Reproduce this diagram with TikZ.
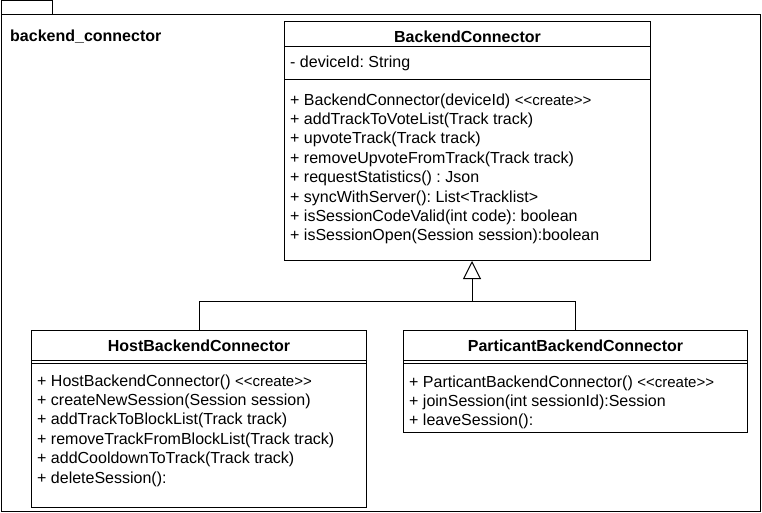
\documentclass[tikz,border=0pt]{standalone}
\usepackage{fontspec}
\setmainfont{Liberation Sans}
\usetikzlibrary{arrows.meta,positioning}
\frenchspacing

\newcommand{\stereo}{{\fontsize{15}{17}\selectfont <{}<create>{}>}}

\tikzset{
  frameline/.style={line width=1pt},
  classbox/.style={draw, line width=1pt, anchor=north west, inner sep=0pt},
  classtitle/.style={font=\bfseries\fontsize{16}{18}\selectfont},
  member/.style={anchor=west, inner sep=0pt, font=\fontsize{16}{18}\selectfont},
  inherit/.style={line width=1pt, -{Triangle[open, length=18pt, width=18pt]}}
}

\begin{document}
\begin{tikzpicture}[x=1pt, y=-1pt]
    \useasboundingbox (0,0) rectangle (762,513);

    % Package frame
    \draw[frameline] (1,15) rectangle (760,511);
    \draw[frameline] (1,15) |- (52,1) -- (52,15);
    \node[anchor=west, inner sep=0pt, font=\bfseries\fontsize{16}{18}\selectfont] (pkg) at (10,37) {backend\_connector};

    % Base class
    \node[classbox, minimum width=366pt, minimum height=239pt] (bc) at (284,21) {};
    \node[classtitle] (bctitle) at ([yshift=-16pt]bc.north) {BackendConnector};
    \draw ([yshift=-25pt]bc.north west) -- ([yshift=-25pt]bc.north east);
    \draw ([yshift=-58pt]bc.north west) -- ([yshift=-58pt]bc.north east);
    \node[member] (bcattr) at (290,63) {- deviceId: String};
    \foreach \m [count=\i from 0] in {%
        {+ BackendConnector(deviceId) \stereo},
        {+ addTrackToVoteList(Track track)},
        {+ upvoteTrack(Track track)},
        {+ removeUpvoteFromTrack(Track track)},
        {+ requestStatistics() : Json},
        {+ syncWithServer(): List<Tracklist>},
        {+ isSessionCodeValid(int code): boolean},
        {+ isSessionOpen(Session session):boolean}}
      \node[member] at (290,101+19.4*\i) {\m};

    % Host class
    \node[classbox, minimum width=335pt, minimum height=177pt] (host) at (31,330) {};
    \node[classtitle] (hosttitle) at ([yshift=-16pt]host.north) {HostBackendConnector};
    \draw ([yshift=-30pt]host.north west) -- ([yshift=-30pt]host.north east);
    \draw ([yshift=-33pt]host.north west) -- ([yshift=-33pt]host.north east);
    \foreach \m [count=\i from 0] in {%
        {+ HostBackendConnector() \stereo},
        {+ createNewSession(Session session)},
        {+ addTrackToBlockList(Track track)},
        {+ removeTrackFromBlockList(Track track)},
        {+ addCooldownToTrack(Track track)},
        {+ deleteSession():}}
      \node[member] at (37,382+19.4*\i) {\m};

    % Participant class
    \node[classbox, minimum width=344pt, minimum height=102pt] (part) at (403,330) {};
    \node[classtitle] (parttitle) at ([yshift=-16pt]part.north) {ParticantBackendConnector};
    \draw ([yshift=-30pt]part.north west) -- ([yshift=-30pt]part.north east);
    \draw ([yshift=-33pt]part.north west) -- ([yshift=-33pt]part.north east);
    \foreach \m [count=\i from 0] in {%
        {+ ParticantBackendConnector() \stereo},
        {+ joinSession(int sessionId):Session},
        {+ leaveSession():}}
      \node[member] at (409,383+19.4*\i) {\m};

    % Generalization
    \coordinate (join) at (472,301);
    \draw[line width=1pt] (host.north) |- (join);
    \draw[line width=1pt] (part.north) |- (join);
    \draw[inherit] (join) -- (bc.south -| join);
\end{tikzpicture}
\end{document}
